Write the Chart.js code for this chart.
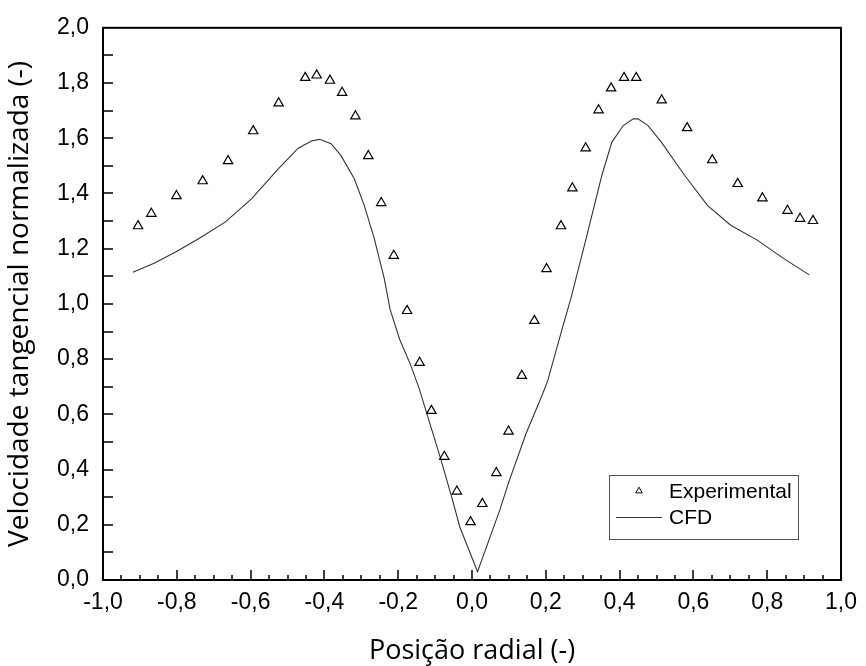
<!DOCTYPE html>
<html>
<head>
<meta charset="utf-8">
<script src="https://cdn.jsdelivr.net/npm/chart.js@4.4.1/dist/chart.umd.min.js"></script>
<style>
html,body{margin:0;padding:0;background:#fff;}
#wrap{width:866px;height:666px;}
</style>
</head>
<body>
<div id="wrap"><canvas id="c" width="866" height="666"></canvas></div>
<script>
// ---- data ----
const expX = [-0.905,-0.869,-0.801,-0.730,-0.661,-0.593,-0.524,-0.452,-0.421,-0.385,-0.352,-0.316,-0.281,-0.246,-0.212,
              -0.176,-0.142,-0.110,-0.075,-0.041,-0.004,
              0.028,0.066,0.099,0.135,0.169,
              0.202,0.241,0.272,0.308,0.343,0.377,0.412,0.445,0.514,0.583,0.651,0.720,0.787,0.855,0.889,0.924];
const expY = [1.282,1.327,1.391,1.445,1.518,1.626,1.727,1.819,1.828,1.809,1.765,1.680,1.536,1.366,1.175,
              0.975,0.787,0.613,0.447,0.321,0.210,
              0.276,0.388,0.538,0.740,0.939,
              1.127,1.282,1.419,1.564,1.702,1.781,1.819,1.819,1.738,1.637,1.521,1.435,1.383,1.338,1.309,1.301];
const cfdX = [-0.919,-0.860,-0.802,-0.740,-0.668,-0.597,-0.525,-0.471,-0.435,-0.413,-0.382,-0.355,-0.319,-0.292,-0.265,-0.238,-0.222,
              -0.196,-0.167,-0.144,-0.122,-0.086,-0.055,-0.033,0.015,
              0.075,0.101,0.146,0.191,0.205,0.245,0.268,0.307,0.352,0.379,0.410,0.437,0.450,0.477,0.513,0.576,0.638,0.701,0.773,0.844,0.914];
const cfdY = [1.115,1.148,1.189,1.237,1.297,1.381,1.489,1.564,1.590,1.596,1.580,1.537,1.453,1.357,1.237,1.093,0.980,
              0.871,0.781,0.697,0.601,0.444,0.300,0.192,0.030,
              0.252,0.360,0.529,0.673,0.721,0.913,1.020,1.225,1.466,1.586,1.646,1.670,1.670,1.646,1.586,1.466,1.357,1.285,1.231,1.165,1.105];
const xTickLabels = ['-1,0','-0,8','-0,6','-0,4','-0,2','0,0','0,2','0,4','0,6','0,8','1,0'];
const yTickLabels = ['0,0','0,2','0,4','0,6','0,8','1,0','1,2','1,4','1,6','1,8','2,0'];
const seriesNames = ['Experimental','CFD'];
const xTitle = 'Posição radial (-)';
const yTitle = 'Velocidade tangencial normalizada (-)';

const expData = expX.map((x,i)=>({x:x,y:expY[i]}));
const cfdData = cfdX.map((x,i)=>({x:x,y:cfdY[i]}));

function labelFor(list, min, step){
  return function(v){
    const idx = Math.round((v - min)/step);
    return list[idx] !== undefined ? list[idx] : '';
  };
}

const frameTicks = {
  id:'frameTicks',
  afterDraw(chart){
    const {ctx, chartArea:a, scales:{x,y}} = chart;
    ctx.save();
    ctx.strokeStyle = '#000';
    ctx.lineWidth = 2;
    ctx.strokeRect(a.left, a.top, a.right - a.left, a.bottom - a.top);
    ctx.lineWidth = 1.5;
    ctx.beginPath();
    for (let i = 1; i < 20; i++){
      const py = Math.round(y.getPixelForValue(i/10));
      ctx.moveTo(a.left, py); ctx.lineTo(a.left + 10, py);
    }
    for (let i = 1; i < 40; i++){
      const px = Math.round(x.getPixelForValue(-1 + i*0.05));
      const len = (i % 4 === 0) ? 10 : 5;
      ctx.moveTo(px, a.bottom); ctx.lineTo(px, a.bottom - len);
    }
    ctx.stroke();
    ctx.restore();
  }
};

const boxLegend = {
  id:'boxLegend',
  afterDraw(chart){
    const ctx = chart.ctx;
    const ds = chart.data.datasets;
    ctx.save();
    ctx.strokeStyle = '#555';
    ctx.lineWidth = 1;
    ctx.strokeRect(609.5, 475.5, 189, 64);
    const cx = 639, cy = 491, r = 3.8;
    ctx.beginPath();
    ctx.moveTo(cx, cy - r);
    ctx.lineTo(cx + r*0.866, cy + r*0.5);
    ctx.lineTo(cx - r*0.866, cy + r*0.5);
    ctx.closePath();
    ctx.strokeStyle = ds[0].borderColor;
    ctx.stroke();
    ctx.beginPath();
    ctx.strokeStyle = ds[1].borderColor;
    ctx.moveTo(616, 517.5); ctx.lineTo(662, 517.5);
    ctx.stroke();
    ctx.fillStyle = '#000';
    ctx.font = '21px "Liberation Sans", Arial, sans-serif';
    ctx.textBaseline = 'middle';
    ctx.textAlign = 'left';
    ctx.fillText(ds[0].label, 669, 492);
    ctx.fillText(ds[1].label, 669, 518);
    ctx.restore();
  }
};

new Chart(document.getElementById('c'), {
  type: 'scatter',
  data: {
    datasets: [
      {
        label: seriesNames[0],
        data: expData,
        pointStyle: 'triangle',
        pointRadius: 5.4,
        pointHoverRadius: 5.4,
        borderColor: '#000',
        backgroundColor: 'rgba(0,0,0,0)',
        pointBorderWidth: 1.2,
        borderWidth: 1.2,
        showLine: false,
        order: 1
      },
      {
        type: 'line',
        label: seriesNames[1],
        data: cfdData,
        borderColor: '#333',
        borderWidth: 1.1,
        pointRadius: 0,
        fill: false,
        tension: 0,
        order: 2
      }
    ]
  },
  options: {
    responsive: false,
    animation: false,
    devicePixelRatio: 1,
    layout: { padding: { top: 25, right: 18, left: 0, bottom: 0 } },
    plugins: { legend: { display: false }, tooltip: { enabled: false } },
    scales: {
      x: {
        type: 'linear',
        min: -1, max: 1,
        afterFit(s){ s.height = 86; },
        afterBuildTicks(s){ s.ticks = xTickLabels.map((t,i)=>({value: -1 + i*0.2})); },
        grid: { display: false, drawTicks: false },
        border: { display: true, color: '#000', width: 2 },
        ticks: {
          color: '#000',
          padding: 9,
          maxRotation: 0,
          autoSkip: false,
          font: { family: '"Liberation Sans", Arial, sans-serif', size: 23 },
          callback: labelFor(xTickLabels, -1, 0.2)
        },
        title: {
          display: true, text: xTitle, color: '#000',
          font: { family: '"Open Sans", sans-serif', size: 27 },
          padding: { top: 0, bottom: -2 }
        }
      },
      y: {
        type: 'linear',
        min: 0, max: 2,
        afterFit(s){ s.width = 103; },
        afterBuildTicks(s){ s.ticks = yTickLabels.map((t,i)=>({value: i*0.2})); },
        grid: { display: false, drawTicks: false },
        border: { display: true, color: '#000', width: 2 },
        ticks: {
          color: '#000',
          padding: 14,
          autoSkip: false,
          font: { family: '"Liberation Sans", Arial, sans-serif', size: 23 },
          callback: labelFor(yTickLabels, 0, 0.2)
        },
        title: {
          display: true, text: yTitle, color: '#000',
          font: { family: '"Open Sans", sans-serif', size: 28 },
          padding: { top: 3, bottom: 0 }
        }
      }
    }
  },
  plugins: [frameTicks, boxLegend]
});
</script>
</body>
</html>
